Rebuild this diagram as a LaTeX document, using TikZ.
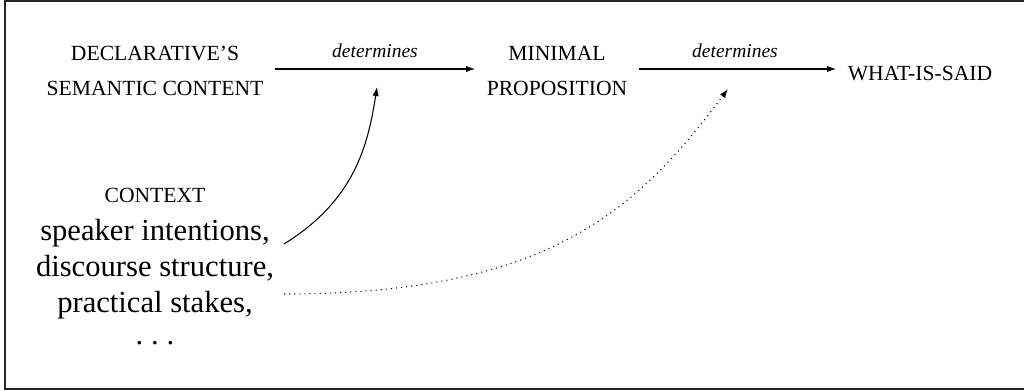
\documentclass[tikz,border=0pt]{standalone}
\usepackage{fontspec}
\setmainfont{Liberation Serif}
\usetikzlibrary{arrows.meta}
\begin{document}
\begin{tikzpicture}[x=0.3333pt,y=-0.3333pt,
  hd/.style={font=\fontsize{7.2}{11.7}\selectfont, inner xsep=3.7pt, inner ysep=0pt, align=center},
  bodyline/.style={font=\fontsize{10.2}{12}\selectfont, inner sep=0pt, anchor=base},
  lab/.style={font=\fontsize{6.5}{8}\selectfont\itshape, inner sep=0pt, anchor=base},
  conn/.style={line width=0.35pt, -{Latex[length=3pt,width=2.1pt]}},
  dotconn/.style={line width=0.35pt, dash pattern=on 0.35pt off 1.35pt, -{Latex[length=3pt,width=2.1pt]}},
]
\useasboundingbox (0,0) rectangle (1024,391);
\draw[line width=0.5pt, black!85] (1024,1) -- (5,1) -- (5,389) -- (1024,389);

\node[hd] (decl) at (155,71) {DECLARATIVE’S\\SEMANTIC CONTENT};
\node[hd] (minimal) at (557,71) {MINIMAL\\PROPOSITION};
\node[hd, text height=6.6pt] (said) at (920,71) {WHAT-IS-SAID};

\node[lab] (det1) at (375,58) {determines};
\node[lab] (det2) at (735,58) {determines};

\draw[conn] ([yshift=0.67pt]decl.east) -- ([yshift=0.67pt]minimal.west);
\draw[conn] ([yshift=0.67pt]minimal.east) -- ([yshift=0.67pt]said.west);

\node[bodyline, font=\fontsize{7.2}{11.7}\selectfont] (ctx) at (155,203) {CONTEXT};
\node[bodyline] (l1) at (155,241) {speaker intentions,};
\node[bodyline] (l2) at (155,277) {discourse structure,};
\node[bodyline] (l3) at (155,313) {practical stakes,};
\node[bodyline] (more) at (155,345) {.\kern2.6pt.\kern2.6pt.};

\coordinate (s1) at (284,244);
\coordinate (t1) at (377,87);
\coordinate (s2) at (284,294);
\coordinate (t2) at (728,89);

\draw[conn] (s1) .. controls (355,200) and (368,145) .. (t1);
\draw[dotconn] (s2) .. controls (550,294) and (638,209) .. (t2);
\end{tikzpicture}
\end{document}
